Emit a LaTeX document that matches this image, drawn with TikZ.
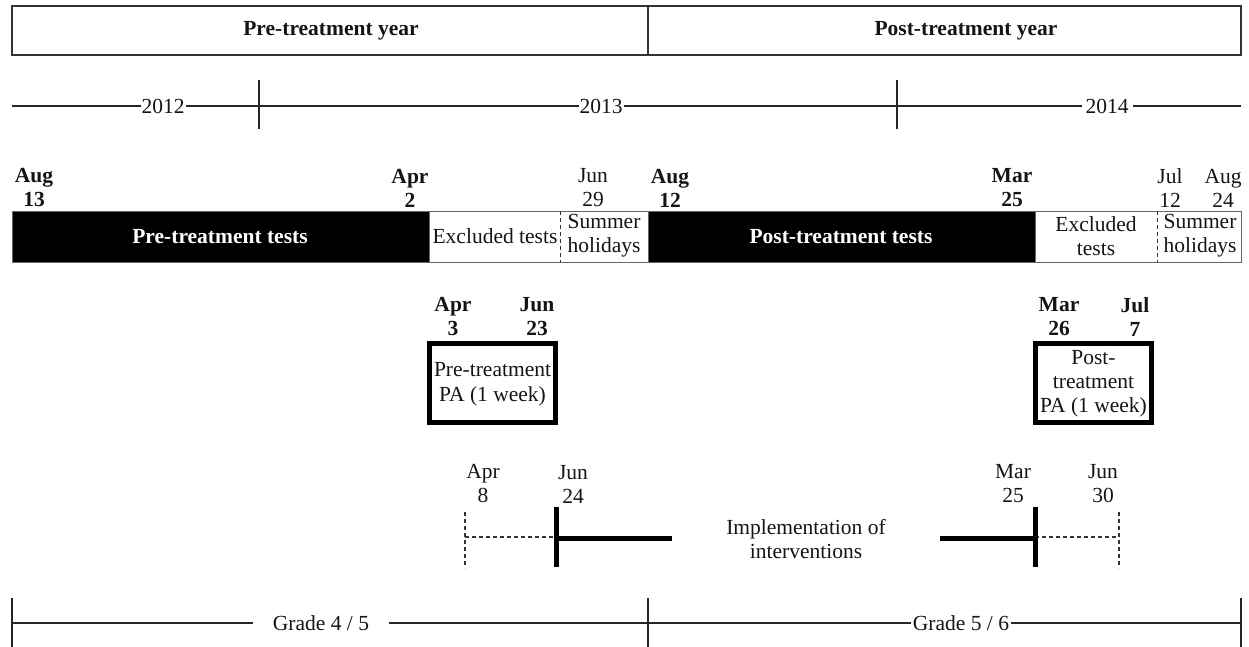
\documentclass[tikz,border=0pt]{standalone}
\usepackage{fontspec}
\setmainfont{Liberation Serif}
\newcommand\myfs{\fontsize{21.5}{24}\selectfont}
\tikzset{
  lbl/.style={font=\myfs, inner sep=0pt, align=center, text=black!92},
  bl/.style={lbl, font=\myfs\bfseries},
  frame/.style={draw=black!80, line width=1.3pt},
  tline/.style={draw=black!85, line width=1.2pt},
  heavy/.style={draw=black, line width=5pt},
  dsh/.style={draw=black!80, line width=1.2pt, dash pattern=on 4pt off 3pt},
  gapw/.style={lbl, fill=white, inner xsep=2pt, inner ysep=2pt},
  barw/.style={draw=black!60, line width=1pt, fill=white},
  barb/.style={draw=black!60, line width=1pt, fill=black}
}
\begin{document}
\begin{tikzpicture}[x=1pt,y=-1pt]
\useasboundingbox (0,0) rectangle (1249,647);
% ---- top header ----
\draw[frame] (12,6) rectangle (648,55);
\draw[frame] (648,6) rectangle (1241,55);
\node[bl] (preyear) at (331,31) {Pre-treatment year};
\node[bl] (postyear) at (966,31) {Post-treatment year};
% ---- year line ----
\coordinate (yl) at (12,106);
\coordinate (yr) at (1241,106);
\draw[tline] (yl) -- (yr);
\coordinate (t1a) at (259,80); \coordinate (t1b) at (259,129);
\coordinate (t2a) at (897,80); \coordinate (t2b) at (897,129);
\draw[tline] (t1a) -- (t1b);
\draw[tline] (t2a) -- (t2b);
\node[gapw, inner xsep=1pt] (y2012) at (163,106) {2012};
\node[gapw, inner xsep=1pt] (y2013) at (601,106) {2013};
\node[gapw, inner xsep=4pt] (y2014) at (1107,106) {2014};
% ---- date labels above bar ----
\node[bl] (d1) at (34,188) {Aug\\13};
\node[bl] (d2) at (410,188) {Apr\\2};
\node[lbl] (d3) at (593,188) {Jun\\29};
\node[bl] (d4) at (670,188) {Aug\\12};
\node[bl] (d5) at (1012,188) {Mar\\25};
\node[lbl] (d6) at (1170,188) {Jul\\12};
\node[lbl] (d7) at (1223,188) {Aug\\24};
% ---- bar ----
\draw[barb] (12,211) rectangle (429,262);
\draw[barw] (429,211) rectangle (648,262);
\draw[barb] (648,211) rectangle (1035,262);
\draw[barw] (1035,211) rectangle (1241,262);
\coordinate (s1a) at (560,211); \coordinate (s1b) at (560,262);
\coordinate (s2a) at (1157,211); \coordinate (s2b) at (1157,262);
\draw[dsh, line width=1pt] (s1a) -- (s1b);
\draw[dsh, line width=1pt] (s2a) -- (s2b);
\node[bl, text=white] (pretests) at (220,237) {Pre-treatment tests};
\node[lbl] (excl1) at (495,236) {Excluded tests};
\node[lbl] (sum1) at (604,236) {Summer\\holidays};
\node[bl, text=white] (posttests) at (841,237) {Post-treatment tests};
\node[lbl] (excl2) at (1096,236) {Excluded\\tests};
\node[lbl] (sum2) at (1200,236) {Summer\\holidays};
% ---- PA boxes ----
\node[bl] (pa1) at (453,317) {Apr\\3};
\node[bl] (pa2) at (537,317) {Jun\\23};
\draw[heavy] (429.5,343.5) rectangle (555.5,422.5);
\node[lbl, font=\fontsize{21.5}{25}\selectfont] (prepa) at (492.5,384) {Pre-treatment\\PA (1 week)};
\node[bl] (pa3) at (1059,317) {Mar\\26};
\node[bl] (pa4) at (1135,317) {Jul\\7};
\draw[heavy] (1035.5,343.5) rectangle (1151.5,422.5);
\node[lbl] (postpa) at (1093.5,384) {Post-\\treatment\\PA (1 week)};
% ---- interventions ----
\node[lbl] (i1) at (483,484) {Apr\\8};
\node[lbl] (i2) at (573,484) {Jun\\24};
\node[lbl] (i3) at (1013,484) {Mar\\25};
\node[lbl] (i4) at (1103,484) {Jun\\30};
\coordinate (la) at (465,512); \coordinate (lb) at (465,568);
\coordinate (lc) at (465,537); \coordinate (ld) at (556,537);
\coordinate (le) at (556,507); \coordinate (lf) at (556,567);
\coordinate (lg) at (556,538); \coordinate (lh) at (672,538);
\draw[dsh] (la) -- (lb);
\draw[dsh] (lc) -- (ld);
\draw[heavy] (le) -- (lf);
\draw[heavy] (lg) -- (lh);
\coordinate (ra) at (1119,512); \coordinate (rb) at (1119,568);
\coordinate (rc) at (1035,537); \coordinate (rd) at (1119,537);
\coordinate (re) at (1035,507); \coordinate (rf) at (1035,567);
\coordinate (rg) at (940,538); \coordinate (rh) at (1035,538);
\draw[dsh] (ra) -- (rb);
\draw[dsh] (rc) -- (rd);
\draw[heavy] (re) -- (rf);
\draw[heavy] (rg) -- (rh);
\node[lbl] (impl) at (806,539) {Implementation of\\interventions};
% ---- grade line ----
\coordinate (gl) at (12,623); \coordinate (gr) at (1241,623);
\draw[tline] (gl) -- (gr);
\coordinate (g1a) at (12,598); \coordinate (g1b) at (12,647);
\coordinate (g2a) at (648,598); \coordinate (g2b) at (648,647);
\coordinate (g3a) at (1241,598); \coordinate (g3b) at (1241,647);
\draw[tline] (g1a) -- (g1b);
\draw[tline] (g2a) -- (g2b);
\draw[tline] (g3a) -- (g3b);
\node[gapw, inner xsep=20pt] (gr45) at (321,623) {Grade 4 / 5};
\node[gapw, inner xsep=2pt] (gr56) at (961,623) {Grade 5 / 6};
\end{tikzpicture}
\end{document}
